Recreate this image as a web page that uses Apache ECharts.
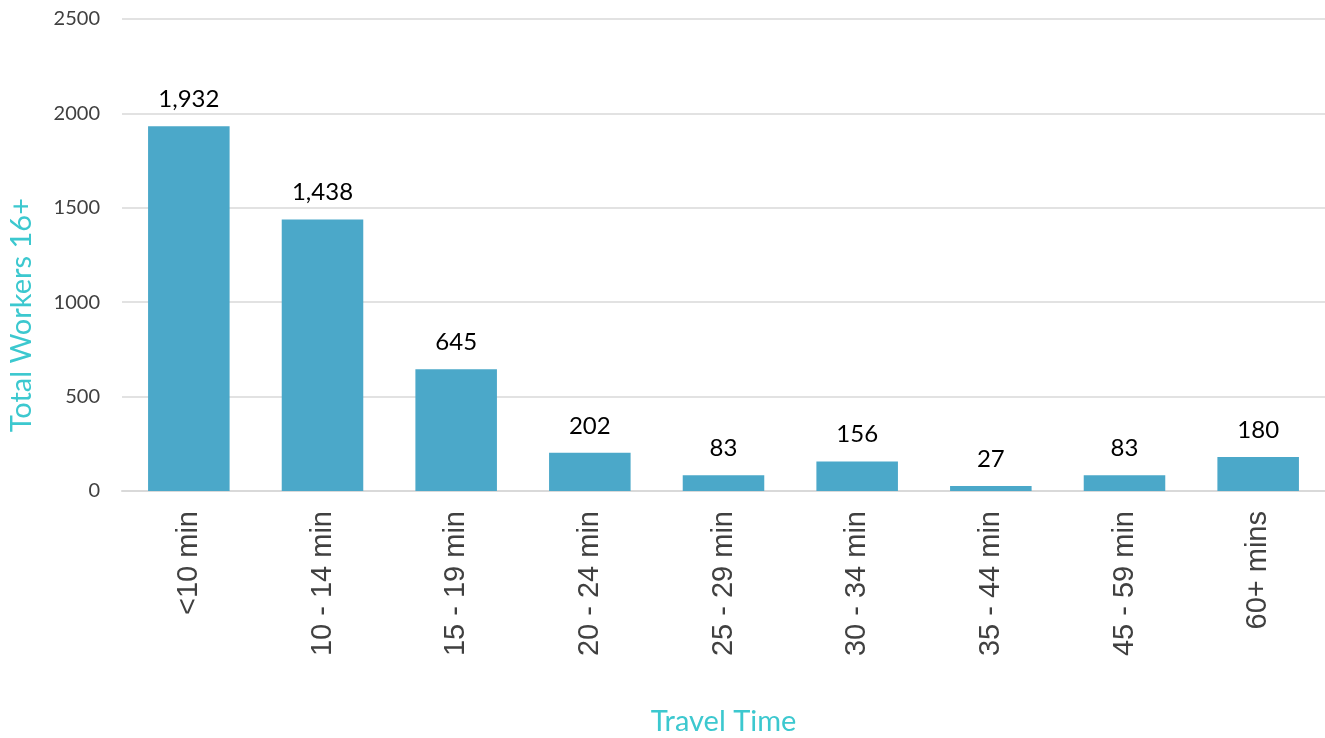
<!DOCTYPE html>
<html><head><meta charset="utf-8">
<script src="https://cdn.jsdelivr.net/npm/echarts@6/dist/echarts.min.js"></script>
<style>html,body{margin:0;padding:0;background:#fff}#c{width:1325px;height:738px}</style>
</head><body><div id="c"></div>
<script>
var categories = ['<10 min','10 - 14 min','15 - 19 min','20 - 24 min','25 - 29 min','30 - 34 min','35 - 44 min','45 - 59 min','60+ mins'];
var workers = [1932,1438,645,202,83,156,27,83,180];
var yTicks = [0,500,1000,1500,2000,2500];

var chart = echarts.init(document.getElementById('c'));
chart.setOption({
  animation:false,
  grid:{left:122,right:0,top:19,bottom:247,containLabel:false,outerBoundsMode:'none'},
  xAxis:{
    type:'category', data:categories,
    axisLine:{lineStyle:{color:'#d9d9d9',width:2}},
    axisTick:{show:false},
    axisLabel:{rotate:90,fontFamily:'Liberation Sans',fontSize:29,color:'#404040',margin:20},
    name:'Travel Time', nameLocation:'middle', nameGap:216,
    nameTextStyle:{fontFamily:'Lato',fontSize:29,color:'#3cc8cf'}
  },
  yAxis:{
    type:'value', min:yTicks[0], max:yTicks[yTicks.length-1], interval:500,
    axisLine:{show:false}, axisTick:{show:false},
    splitLine:{lineStyle:{color:'#d9d9d9',width:1.5}},
    axisLabel:{fontFamily:'Lato',fontSize:20,color:'#404040',margin:22,formatter:function(v){return String(v);}}
  },
  graphic:[{
    type:'text', left:7, top:198, rotation:Math.PI/2,
    style:{text:'Total Workers 16+',font:'29px Lato',fill:'#3cc8cf'}
  }],
  series:[{
    type:'bar', data:workers, barCategoryGap:'39%',
    itemStyle:{color:'#4ba8c9'},
    label:{show:true,position:'top',distance:15,fontFamily:'Lato',fontSize:24,color:'#000',
      formatter:function(p){return p.value.toLocaleString('en-US');}}
  }]
});
</script></body></html>
